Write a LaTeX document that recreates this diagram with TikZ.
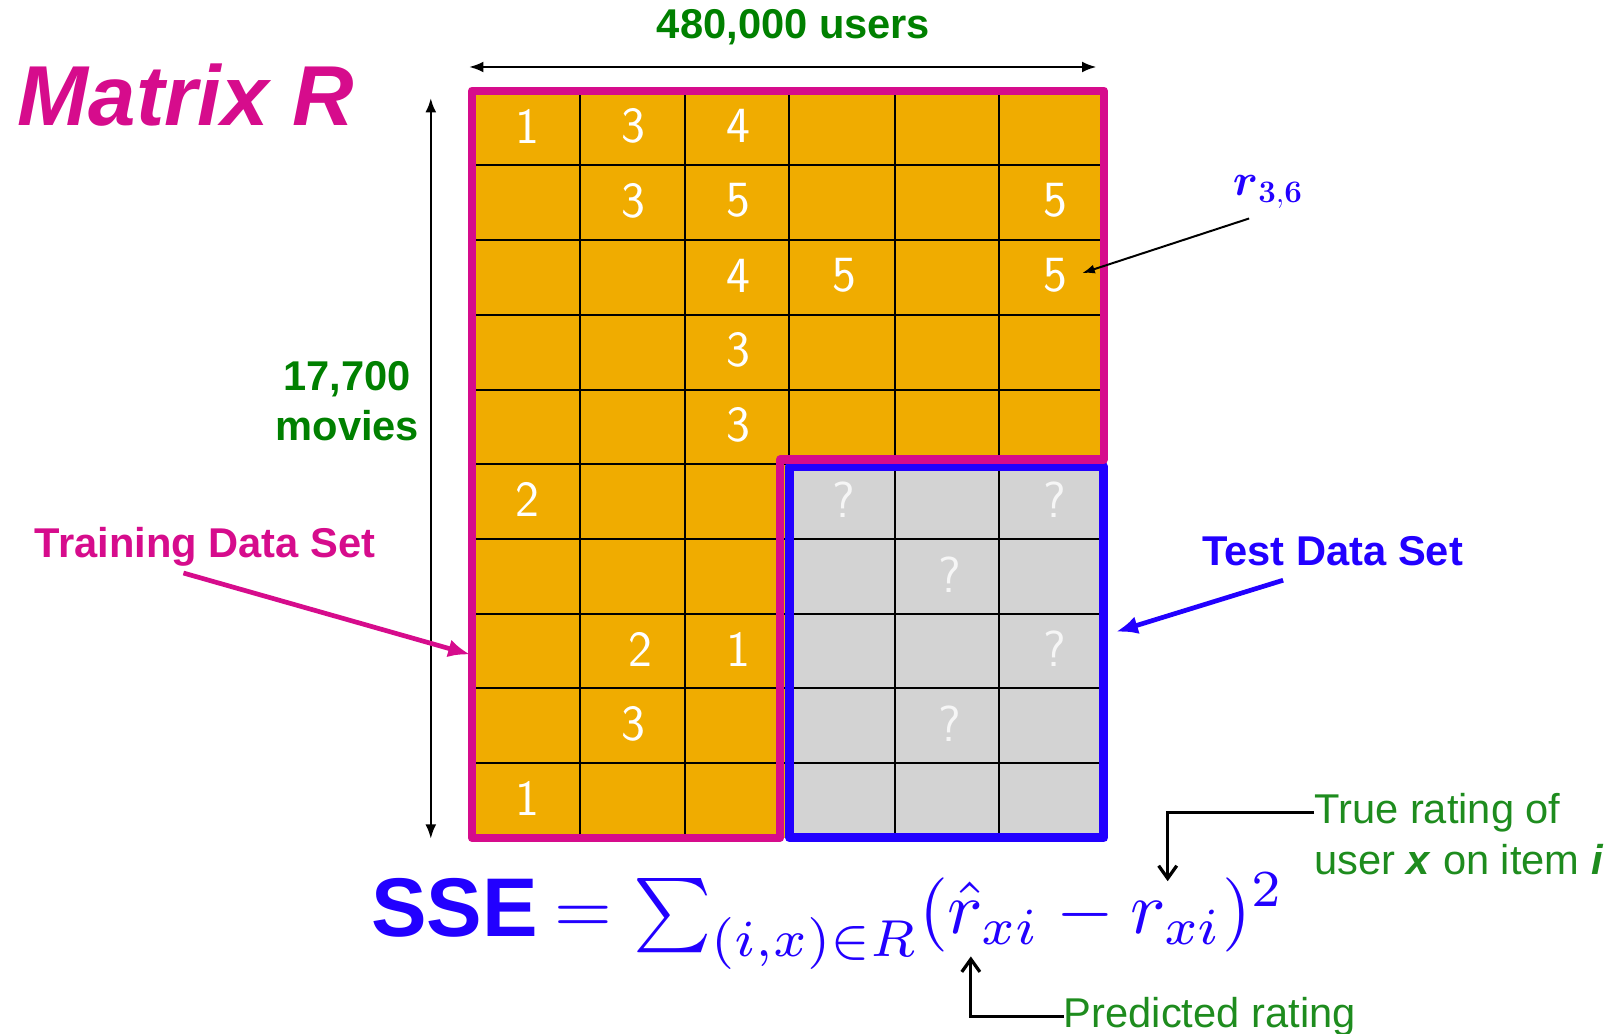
\documentclass[tikz,border=0pt]{standalone}
\usepackage[no-math]{fontspec}
\usepackage{amsmath}
\setmainfont{Liberation Sans}
\usetikzlibrary{arrows.meta}
\definecolor{mag}{RGB}{214,12,140}
\definecolor{orng}{RGB}{240,172,0}
\definecolor{tblue}{RGB}{34,0,255}
\definecolor{cellgray}{RGB}{211,211,211}
\definecolor{dgreen}{RGB}{0,128,0}
\definecolor{lgreen}{RGB}{30,140,30}
\definecolor{qmark}{RGB}{246,246,246}
\tikzset{
  gridline/.style={line width=1.1pt, black},
  cellnum/.style={text=white, font=\sffamily\fontsize{28}{30}\selectfont, inner sep=0pt},
  qnum/.style={text=qmark, font=\sffamily\fontsize{28}{30}\selectfont, inner sep=0pt},
  dimarrow/.style={line width=1.4pt, black, {Latex[length=8pt,width=6pt]}-{Latex[length=8pt,width=6pt]}},
  bigtxt/.style={font=\bfseries\fontsize{23}{27}\selectfont},
  notetxt/.style={text=lgreen, font=\fontsize{23}{27}\selectfont, inner sep=0pt},
  elbowarrow/.style={line width=1.8pt, black, -{Straight Barb[length=7pt,width=10pt]}},
}
\begin{document}
\begin{tikzpicture}[x=0.02cm,y=-0.02cm]
\useasboundingbox (0,0) rectangle (1568,1003);

% matrix fill
\fill[orng] (458,88) rectangle (1072,813);
\fill[cellgray] (765,452) rectangle (1072,813);
% grid
\foreach \x in {563,665,766,868,969} \draw[gridline] (\x,88) -- (\x,813);
\foreach \y in {160.5,233,305.5,378,450.5,523,595.5,668,740.5} \draw[gridline] (458,\y) -- (1072,\y);

% cell values
\foreach \c/\r/\t in {1/1/1,2/1/3,3/1/4,2/2/3,3/2/5,6/2/5,3/3/4,4/3/5,6/3/5,3/4/3,3/5/3,1/6/2,3/8/1,2/9/3,1/10/1}
  \node[cellnum] (n\c-\r) at ({461+102.3*(\c-0.5)},{86+72.5*(\r-0.5)}) {\t};
\node[cellnum] (n2-8) at (621,{86+72.5*7.5}) {2};
\foreach \c/\r in {4/6,6/6,5/7,6/8,5/9}
  \node[qnum] (q\c-\r) at ({461+102.3*(\c-0.5)},{86+72.5*(\r-0.5)}) {?};

% borders
\draw[tblue, line width=5pt, line join=round, line cap=round] (766,453) rectangle (1071,813);
\draw[mag, line width=4.6pt, line join=round, line cap=round]
  (458,88) -- (1071,88) -- (1071,446) -- (757,446) -- (757,813) -- (458,813) -- cycle;

% dimension arrows
\coordinate (hl) at (455,65);
\coordinate (hr) at (1064,65);
\draw[dimarrow] (hl) -- (hr);
\coordinate (vt) at (418,95);
\coordinate (vb) at (418,814);
\draw[dimarrow] (vt) -- (vb);

% titles
\node[anchor=base west, inner sep=0pt, text=mag, font=\bfseries\itshape\fontsize{47}{50}\selectfont] (title) at (17,122) {Matrix R};
\node[bigtxt, text=dgreen] (users) at (770,26) {480,000 users};
\node[bigtxt, text=dgreen, align=center, font=\bfseries\fontsize{23}{27.5}\selectfont] (movies) at (337,389) {17,700\\movies};
\node[bigtxt, text=mag] (train) at (199,531) {Training Data Set};
\node[bigtxt, text=tblue] (test) at (1293,535) {Test Data Set};

% r36
\node[anchor=base west, inner sep=0pt, text=tblue, font=\fontsize{26}{28}\selectfont] (r36) at (1196,190) {$\boldsymbol{r}_{\mathbf{3,6}}$};
\coordinate (r36tail) at (1212,212);
\coordinate (cell36) at (1050,265);
\draw[line width=1.1pt, black, -{Latex[length=7pt,width=5pt]}] (r36tail) -- (cell36);

% training / test arrows
\coordinate (traintail) at (178,556);
\coordinate (trainhead) at (456,635);
\draw[mag, line width=2.6pt, -{Latex[length=12pt,width=10pt]}] (traintail) -- (trainhead);
\coordinate (testtail) at (1245,563);
\coordinate (testhead) at (1083,613);
\draw[tblue, line width=2.6pt, -{Latex[length=12pt,width=10pt]}] (testtail) -- (testhead);

% SSE formula
\node[anchor=base west, inner sep=0pt, text=tblue, font=\bfseries\fontsize{46}{50}\selectfont] (sse) at (360,909) {SSE};
\node[anchor=base west, inner sep=0pt, text=tblue] (formula) at (538,906)
  {\resizebox{403pt}{!}{$=\sum_{(i,x)\in R}(\hat{r}_{xi}-r_{xi})^2$}};

% annotations
\node[notetxt, anchor=base west] (true1) at (1275,799) {True rating of};
\node[notetxt, anchor=base west] (true2) at (1275,849) {user \textbf{\textit{x}} on item \textbf{\textit{i}}};
\coordinate (rxi) at (1133,855);
\draw[elbowarrow] (true1.west) -| (rxi);
\node[notetxt, anchor=base west] (pred) at (1032,997) {Predicted rating};
\coordinate (rhat) at (942,928);
\draw[elbowarrow] (pred.west) -| (rhat);
\end{tikzpicture}
\end{document}
